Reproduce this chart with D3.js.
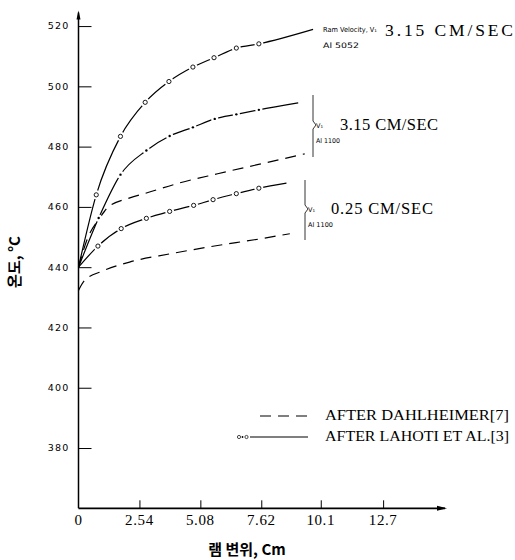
<!DOCTYPE html>
<html>
<head>
<meta charset="utf-8">
<script src="https://cdn.jsdelivr.net/npm/d3@7"></script>
<style>
  html, body { margin: 0; padding: 0; background: #fff; }
  svg { display: block; }
</style>
</head>
<body>
<svg id="chart" width="515" height="560"></svg>
<script>
// ---------------- data ----------------
const xTickValues = [0, 2.54, 5.08, 7.62, 10.1, 12.7];
const xTickLabels = ["0", "2.54", "5.08", "7.62", "10.1", "12.7"];
const yTickValues = [380, 400, 420, 440, 460, 480, 500, 520];

// Lahoti et al., Al 5052, V = 3.15 cm/s (open circles)
const al5052Fast = [[0,440],[0.74,464.0],[1.75,483.4],[2.78,494.7],[3.77,501.6],[4.77,506.4],[5.65,509.5],[6.58,512.7],[7.52,514.1],[9.78,518.9]];
// Lahoti et al., Al 1100, V = 3.15 cm/s (dots)
const al1100FastLahoti = [[0,440],[0.84,456.3],[1.75,470.7],[2.83,478.7],[3.80,483.5],[4.77,486.4],[5.68,489.2],[6.58,490.7],[7.52,492.2],[9.16,494.5]];
// Dahlheimer, Al 1100, V = 3.15 cm/s (dashed)
const al1100FastDahl = [[0,440],[0.35,449],[0.9,456.5],[1.22,459.8],[2.14,463.0],[2.75,464.4],[4.19,467.9],[5.8,471.0],[7.62,474.3],[9.43,477.6]];
// Lahoti et al., Al 1100, V = 0.25 cm/s (open circles)
const al1100SlowLahoti = [[0,440],[0.81,447.0],[1.78,452.8],[2.83,456.2],[3.80,458.5],[4.80,460.5],[5.61,462.4],[6.58,464.4],[7.52,466.2],[8.67,467.9]];
// Dahlheimer, Al 1100, V = 0.25 cm/s (dashed)
const al1100SlowDahl = [[0,432.3],[0.25,435.6],[1.0,438.7],[2.13,441.7],[3.80,444.4],[5.5,446.8],[7.57,449.4],[8.81,451.1]];

// ---------------- layout ----------------
const svg = d3.select("#chart");
const x = d3.scaleLinear().domain([0, 15.28]).range([78.5, 445]);
const y = d3.scaleLinear().domain([360, 524.5]).range([508.3, 12.5]);
const serif = "'Liberation Serif', 'Times New Roman', serif";
const sans = "'DejaVu Sans', sans-serif";
const kr = "'Noto Sans CJK KR', sans-serif";

const g = svg.append("g");

// axes lines
g.append("line").attr("x1", x(0)).attr("x2", x(15.28)).attr("y1", y(360)).attr("y2", y(360))
  .attr("stroke", "#000").attr("stroke-width", 1.8);
g.append("line").attr("x1", x(0)).attr("x2", x(0)).attr("y1", y(360)).attr("y2", y(524.5))
  .attr("stroke", "#000").attr("stroke-width", 1.5);
// arrowheads
g.append("path").attr("d", `M${x(15.28)+2},${y(360)} L${x(15.28)-8},${y(360)-2.5} L${x(15.28)-8},${y(360)+2.5} Z`).attr("fill", "#000");
g.append("path").attr("d", `M${x(0)},${y(524.5)-2} L${x(0)-2},${y(524.5)+7} L${x(0)+2},${y(524.5)+7} Z`).attr("fill", "#000");

// y axis ticks (inside, to the right) & labels
const yAxis = d3.axisRight(y).tickValues(yTickValues).tickSize(13).tickFormat("");
const yg = g.append("g").attr("transform", `translate(${x(0)},0)`).call(yAxis);
yg.select(".domain").remove();
yg.selectAll(".tick line").attr("stroke", "#000").attr("stroke-width", 1);
g.selectAll(".ylab").data(yTickValues).enter().append("text")
  .attr("x", x(0) - 9).attr("y", d => y(d)).attr("dy", "0.35em")
  .attr("text-anchor", "end").attr("font-family", sans).attr("font-size", 9.5)
  .attr("letter-spacing", 1.2).text(d => d);

// x axis ticks (inside, upward) & labels
const xAxis = d3.axisTop(x).tickValues(xTickValues.slice(1)).tickSize(8).tickFormat("");
const xg = g.append("g").attr("transform", `translate(0,${y(360)})`).call(xAxis);
xg.select(".domain").remove();
xg.selectAll(".tick line").attr("stroke", "#000").attr("stroke-width", 1);
g.selectAll(".xlab").data(xTickValues).enter().append("text")
  .attr("x", d => x(d)).attr("y", 525).attr("text-anchor", "middle")
  .attr("font-family", serif).attr("font-size", 15).attr("letter-spacing", 0.6)
  .text((d, i) => xTickLabels[i]);

// axis titles
g.append("text").attr("x", 247).attr("y", 555).attr("text-anchor", "middle")
  .attr("font-family", kr).attr("font-weight", "bold").attr("font-size", 15)
  .text("램 변위, Cm");
g.append("text").attr("transform", "translate(20,262) rotate(-90)").attr("text-anchor", "middle")
  .attr("font-family", kr).attr("font-weight", "bold").attr("font-size", 15)
  .text("온도, °C");

// ---------------- curves ----------------
const line = d3.line().x(d => x(d[0])).y(d => y(d[1])).curve(d3.curveMonotoneX);
function drawCurve(data, dashed) {
  g.append("path").datum(data).attr("d", line).attr("fill", "none")
    .attr("stroke", "#000").attr("stroke-width", 1.2)
    .attr("stroke-dasharray", dashed ? "11,7" : null);
}
drawCurve(al5052Fast, false);
drawCurve(al1100FastLahoti, false);
drawCurve(al1100FastDahl, true);
drawCurve(al1100SlowLahoti, false);
drawCurve(al1100SlowDahl, true);

function circles(data) {
  const pts = data.slice(1, -1);
  g.selectAll(null).data(pts).enter().append("circle")
    .attr("cx", d => x(d[0])).attr("cy", d => y(d[1])).attr("r", 4.5).attr("fill", "#fff");
  g.selectAll(null).data(pts).enter().append("circle")
    .attr("cx", d => x(d[0])).attr("cy", d => y(d[1])).attr("r", 2.1)
    .attr("fill", "#fff").attr("stroke", "#000").attr("stroke-width", 0.9);
}
function dots(data) {
  const pts = data.slice(1, -1);
  g.selectAll(null).data(pts).enter().append("circle")
    .attr("cx", d => x(d[0])).attr("cy", d => y(d[1])).attr("r", 3.6).attr("fill", "#fff");
  g.selectAll(null).data(pts).enter().append("circle")
    .attr("cx", d => x(d[0])).attr("cy", d => y(d[1])).attr("r", 1.2).attr("fill", "#000");
}
circles(al5052Fast);
dots(al1100FastLahoti);
circles(al1100SlowLahoti);

// ---------------- annotations ----------------
function txt(px, py, s, font, size, opts = {}) {
  const t = g.append("text").attr("x", px).attr("y", py).attr("font-family", font)
    .attr("font-size", size).attr("dy", "0.35em").text(s);
  if (opts.len) t.attr("textLength", opts.len).attr("lengthAdjust", opts.adj || "spacing");
  if (opts.weight) t.attr("font-weight", opts.weight);
  return t;
}
// top label (Al 5052)
txt(323, 30, "Ram Velocity, V\u2081", sans, 7, {len: 54, adj: "spacingAndGlyphs"});
txt(385, 30, "3.15 CM/SEC", serif, 17.5, {len: 128});
txt(323, 45, "Al 5052", sans, 7.5, {len: 36, adj: "spacingAndGlyphs"});

// bracket for Al 1100, 3.15
const br1x = 313;
g.append("path").attr("d", `M${br1x},95 L${br1x},121 L${br1x+3},125 L${br1x},129 L${br1x},157`)
  .attr("fill", "none").attr("stroke", "#000").attr("stroke-width", 0.8);
txt(316, 126, "V\u2081", sans, 6.5);
txt(340, 124, "3.15 CM/SEC", serif, 16.5, {len: 98});
txt(316, 141, "Al 1100", sans, 6.5, {len: 24, adj: "spacingAndGlyphs"});

// bracket for Al 1100, 0.25
const br2x = 305;
g.append("path").attr("d", `M${br2x},180 L${br2x},205 L${br2x+3},209 L${br2x},213 L${br2x},240`)
  .attr("fill", "none").attr("stroke", "#000").attr("stroke-width", 0.8);
txt(308, 210, "V\u2081", sans, 6.5);
txt(331, 208, "0.25 CM/SEC", serif, 16.5, {len: 102});
txt(308, 225, "Al 1100", sans, 6.5, {len: 25, adj: "spacingAndGlyphs"});

// legend
g.append("line").attr("x1", 260).attr("x2", 308).attr("y1", 416).attr("y2", 416)
  .attr("stroke", "#000").attr("stroke-width", 1.2).attr("stroke-dasharray", "11,7");
txt(325, 415, "AFTER DAHLHEIMER[7]", serif, 15.5, {len: 184, adj: "spacingAndGlyphs"});
g.append("line").attr("x1", 250).attr("x2", 308).attr("y1", 437).attr("y2", 437)
  .attr("stroke", "#000").attr("stroke-width", 1.2);
g.append("circle").attr("cx", 239).attr("cy", 437).attr("r", 1.6).attr("fill", "#fff").attr("stroke", "#000").attr("stroke-width", 0.7);
g.append("circle").attr("cx", 242.5).attr("cy", 437).attr("r", 0.9).attr("fill", "#000");
g.append("circle").attr("cx", 246.5).attr("cy", 437).attr("r", 1.6).attr("fill", "#fff").attr("stroke", "#000").attr("stroke-width", 0.7);
txt(325, 436, "AFTER LAHOTI ET AL.[3]", serif, 15.5, {len: 184, adj: "spacingAndGlyphs"});
</script>
</body>
</html>
